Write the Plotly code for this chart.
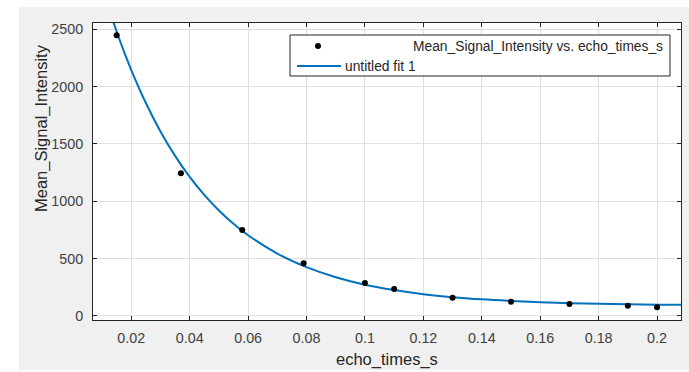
import plotly.graph_objects as go

# measured data points
echo_times_s = [0.015, 0.037, 0.058, 0.079, 0.100, 0.110, 0.130, 0.150, 0.170, 0.190, 0.200]
mean_signal_intensity = [2448, 1244, 749, 459, 288, 235, 160, 125, 105, 90, 76]

# fitted curve
fit_x = [0.012, 0.014, 0.016, 0.018, 0.020, 0.025, 0.030, 0.035, 0.040, 0.045, 0.050,
         0.055, 0.060, 0.070, 0.080, 0.090, 0.100, 0.110, 0.120, 0.130, 0.140, 0.150,
         0.160, 0.170, 0.180, 0.190, 0.200, 0.210]
fit_y = [2706, 2553, 2409, 2273, 2145, 1857, 1609, 1396, 1213, 1056, 920,
         804, 704, 544, 426, 338, 273, 226, 190, 164, 145, 131,
         120, 112, 106, 102, 99, 97]

x_ticks = [0.02, 0.04, 0.06, 0.08, 0.10, 0.12, 0.14, 0.16, 0.18, 0.20]
x_tick_text = ["0.02", "0.04", "0.06", "0.08", "0.1", "0.12", "0.14", "0.16", "0.18", "0.2"]
y_ticks = [0, 500, 1000, 1500, 2000, 2500]

x_title = "echo_times_s"
y_title = "Mean_Signal_Intensity"
legend_names = ["Mean_Signal_Intensity vs. echo_times_s", "untitled fit 1"]

W, H = 689, 372
L, R, T, B = 93, 8, 23, 52
PW, PH = W - L - R, H - T - B


def fx(px):
    return (px - L) / PW


def fy(py):
    return (H - B - py) / PH


FONT = "Liberation Sans, Arial, sans-serif"
TXT = "#262626"
BLUE = "#0072BD"

fig = go.Figure()
fig.add_trace(go.Scatter(x=fit_x, y=fit_y, mode="lines", line=dict(color=BLUE, width=2, shape="spline"),
                         name=legend_names[1], showlegend=False, hoverinfo="skip"))
fig.add_trace(go.Scatter(x=echo_times_s, y=mean_signal_intensity, mode="markers",
                         marker=dict(color="black", size=6), name=legend_names[0], showlegend=False))

shapes = [
    # white strips around the gray figure area
    dict(type="rect", xref="paper", yref="paper", x0=fx(-5), x1=fx(W + 5), y0=fy(7), y1=fy(-5),
         fillcolor="white", line=dict(width=0), layer="below"),
    dict(type="rect", xref="paper", yref="paper", x0=fx(-5), x1=fx(19), y0=fy(H + 5), y1=fy(-5),
         fillcolor="white", line=dict(width=0), layer="below"),
    dict(type="rect", xref="paper", yref="paper", x0=fx(-5), x1=fx(W + 5), y0=fy(H + 5), y1=fy(370),
         fillcolor="#fafafa", line=dict(width=0), layer="below"),
    # legend box
    dict(type="rect", xref="paper", yref="paper", x0=fx(290), x1=fx(670), y0=fy(76), y1=fy(35),
         fillcolor="white", line=dict(color=TXT, width=1), layer="above"),
    dict(type="line", xref="paper", yref="paper", x0=fx(297), x1=fx(341), y0=fy(66), y1=fy(66),
         line=dict(color=BLUE, width=2), layer="above"),
    dict(type="circle", xref="paper", yref="paper", xsizemode="pixel", ysizemode="pixel",
         xanchor=fx(318), yanchor=fy(46), x0=-3, x1=3, y0=-3, y1=3,
         fillcolor="black", line=dict(width=0), layer="above"),
]

annotations = [
    dict(text=legend_names[0], xref="paper", yref="paper", x=fx(665), y=fy(46.5),
         xanchor="right", yanchor="middle", showarrow=False, font=dict(family=FONT, size=13.8, color=TXT)),
    dict(text=legend_names[1], xref="paper", yref="paper", x=fx(343), y=fy(66),
         xanchor="left", yanchor="middle", showarrow=False, font=dict(family=FONT, size=13.8, color=TXT)),
    # axis titles
    dict(text=x_title, xref="paper", yref="paper", x=fx(387), y=fy(359),
         xanchor="center", yanchor="middle", showarrow=False, font=dict(family=FONT, size=16.5, color=TXT)),
    dict(text=y_title, xref="paper", yref="paper", x=fx(42), y=fy(128), textangle=-90,
         xanchor="center", yanchor="middle", showarrow=False, font=dict(family=FONT, size=16.5, color=TXT)),
]

axis_common = dict(showline=True, linecolor=TXT, linewidth=1, mirror="allticks", ticks="inside",
                   ticklen=4, tickcolor=TXT, showgrid=True, gridcolor="#dfdfdf", gridwidth=1,
                   zeroline=False, automargin=False, tickfont=dict(family=FONT, size=14.3, color="#404040"))

fig.update_layout(
    width=W, height=H,
    margin=dict(l=L, r=R, t=T, b=B, pad=0),
    paper_bgcolor="#f0f0f0", plot_bgcolor="white",
    shapes=shapes, annotations=annotations,
    showlegend=False,
    xaxis=dict(range=[0.0069, 0.2082], tickvals=x_ticks, ticktext=x_tick_text,
               ticklabelstandoff=5, **axis_common),
    yaxis=dict(range=[-35, 2555], tickvals=y_ticks,
               ticklabelstandoff=6, **axis_common),
)

fig.write_html("out.html", config={"displayModeBar": False},
               post_script="document.body.style.margin='0';document.body.style.overflow='hidden';")
